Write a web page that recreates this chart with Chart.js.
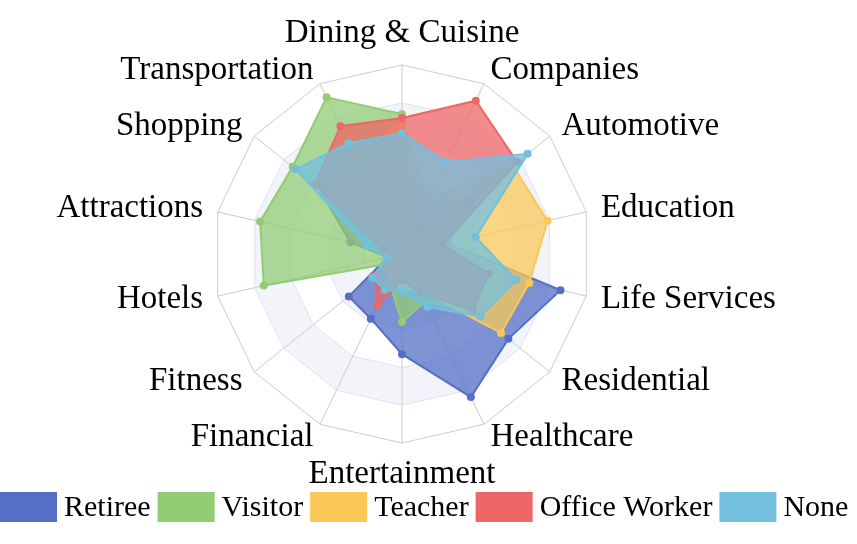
<!DOCTYPE html>
<html>
<head>
<meta charset="utf-8">
<script src="https://cdn.jsdelivr.net/npm/chart.js@4.4.1/dist/chart.umd.min.js"></script>
<style>
  html, body { margin: 0; padding: 0; background: #ffffff; }
  canvas { display: block; }
</style>
</head>
<body>
<canvas id="myRadarChart" width="857" height="544"></canvas>
<script>
const categories = [
  "Dining & Cuisine",
  "Companies",
  "Automotive",
  "Education",
  "Life Services",
  "Residential",
  "Healthcare",
  "Entertainment",
  "Financial",
  "Fitness",
  "Hotels",
  "Attractions",
  "Shopping",
  "Transportation",
];

const retiree = [59, 15, 54, 25, 86, 72, 84, 53, 38, 36, 8, 28, 57, 48];
const visitor = [74, 10, 39, 18, 52, 48, 28, 36, 16, 8, 75, 77, 74, 92];
const teacher = [70, 32, 75, 79, 69, 67, 21, 18, 14, 12, 5, 10, 56, 58];
const officeWorker = [72, 90, 78, 22, 47, 48, 23, 14, 30, 18, 6, 10, 59, 75];
const none = [64, 54, 85, 40, 62, 53, 31, 20, 21, 20, 8, 19, 72, 65];

const seriesNames = ["Retiree", "Visitor", "Teacher", "Office Worker", "None"];
const seriesValues = [retiree, visitor, teacher, officeWorker, none];
const seriesColors = ["#5470c6", "#91cc75", "#fac858", "#ee6666", "#73c0de"];
const ringTicks = [0, 20, 40, 60, 80, 100];

const labelFont = "33px 'Liberation Serif', 'Times New Roman', serif";
const legendFont = "30px 'Liberation Serif', 'Times New Roman', serif";

function withAlpha(hex, a) {
  const n = parseInt(hex.slice(1), 16);
  return "rgba(" + ((n >> 16) & 255) + "," + ((n >> 8) & 255) + "," + (n & 255) + "," + a + ")";
}

function ringPath(ctx, scale, n, dist) {
  ctx.beginPath();
  for (let i = 0; i < n; i++) {
    const p = scale.getPointPosition(i, dist);
    if (i === 0) ctx.moveTo(p.x, p.y);
    else ctx.lineTo(p.x, p.y);
  }
  ctx.closePath();
}

// alternating bands between the grid rings
const splitArea = {
  id: "splitArea",
  beforeDraw(chart) {
    const { ctx } = chart;
    const scale = chart.scales.r;
    const n = chart.data.labels.length;
    ctx.save();
    for (let k = ringTicks.length - 1; k > 0; k--) {
      ringPath(ctx, scale, n, scale.getDistanceFromCenterForValue(ringTicks[k]));
      ctx.fillStyle = k % 2 === 0 ? "#f2f4fa" : "#ffffff";
      ctx.fill();
    }
    ctx.restore();
  },
};

// category names round the outside
const axisNames = {
  id: "axisNames",
  afterDraw(chart) {
    const { ctx } = chart;
    const scale = chart.scales.r;
    const labels = chart.data.labels;
    const n = labels.length;
    ctx.save();
    ctx.font = labelFont;
    ctx.fillStyle = "#000000";
    labels.forEach((label, i) => {
      const angle = (i / n) * Math.PI * 2;
      const sin = Math.sin(angle);
      const cos = Math.cos(angle);
      const p = scale.getPointPosition(i, scale.drawingArea + 15);
      if (Math.abs(sin) < 0.01) {
        ctx.textAlign = "center";
        ctx.textBaseline = cos > 0 ? "bottom" : "top";
      } else {
        ctx.textAlign = sin > 0 ? "left" : "right";
        ctx.textBaseline = "middle";
      }
      ctx.fillText(label, p.x, p.y);
    });
    ctx.restore();
  },
};

// legend row along the bottom
const bottomLegend = {
  id: "bottomLegend",
  afterDraw(chart) {
    const { ctx } = chart;
    const boxW = 57;
    const boxH = 30;
    const gap = 7;
    const top = 492;
    let x = 0;
    ctx.save();
    ctx.font = legendFont;
    ctx.textAlign = "left";
    ctx.textBaseline = "middle";
    chart.data.datasets.forEach((ds) => {
      ctx.fillStyle = ds.borderColor;
      ctx.fillRect(x, top, boxW, boxH);
      ctx.fillStyle = "#000000";
      ctx.fillText(ds.label, x + boxW + gap, top + boxH / 2 + 1);
      x += boxW + gap + ctx.measureText(ds.label).width + gap;
    });
    ctx.restore();
  },
};

const ctx = document.getElementById("myRadarChart").getContext("2d");

const myRadarChart = new Chart(ctx, {
  type: "radar",
  data: {
    labels: categories,
    datasets: seriesNames.map((name, k) => ({
      label: name,
      data: seriesValues[k],
      borderColor: seriesColors[k],
      backgroundColor: withAlpha(seriesColors[k], 0.75),
      pointBackgroundColor: seriesColors[k],
      pointBorderColor: seriesColors[k],
      pointRadius: 4,
      pointBorderWidth: 0,
      borderWidth: 2,
      fill: true,
      order: seriesNames.length - k,
    })),
  },
  options: {
    responsive: false,
    animation: false,
    layout: {
      padding: { left: 213, right: 266, top: 65, bottom: 101 },
    },
    scales: {
      r: {
        min: ringTicks[0],
        max: ringTicks[ringTicks.length - 1],
        ticks: { display: false, stepSize: 20 },
        pointLabels: { display: false },
        angleLines: { color: "#cccccc", lineWidth: 1 },
        grid: {
          lineWidth: 1,
          color: (c) => (c.index === ringTicks.length - 1 ? "#cccccc" : "#dfe4ef"),
        },
      },
    },
    plugins: {
      legend: { display: false },
      tooltip: { enabled: false },
    },
  },
  plugins: [splitArea, axisNames, bottomLegend],
});
</script>
</body>
</html>
